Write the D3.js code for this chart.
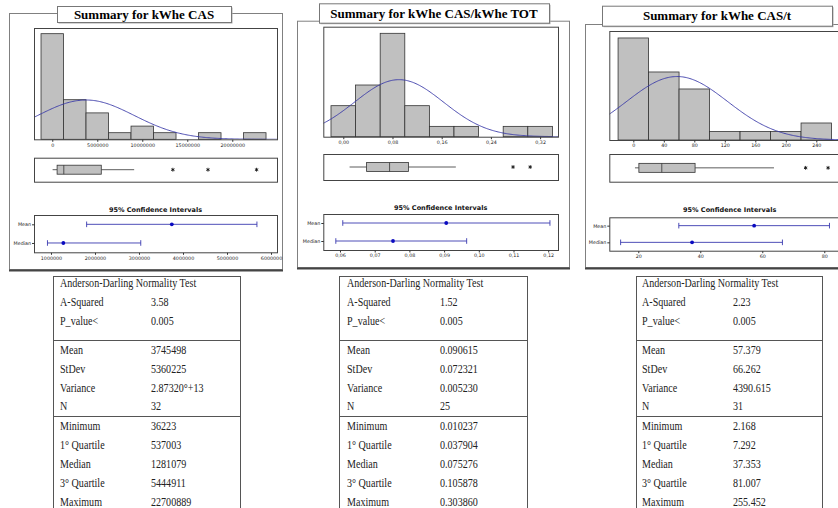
<!DOCTYPE html>
<html>
<head>
<meta charset="utf-8">
<script src="https://cdn.jsdelivr.net/npm/d3@7"></script>
<style>
  body { margin: 0; background: #fff; }
  svg { display: block; }
  .tick text { font-family: "DejaVu Sans", sans-serif; font-size: 4.8px; fill: #222; }
  .tick line { stroke: #333; }
  .ci-title { font-family: "DejaVu Sans", sans-serif; font-size: 6.5px; font-weight: bold; fill: #111; }
  .title { font-family: "Liberation Serif", serif; font-size: 13px; font-weight: bold; fill: #000; }
  .stat { font-family: "Liberation Serif", serif; font-size: 12px; fill: #222; }
</style>
</head>
<body>
<svg id="chart" width="838" height="508"></svg>
<script>
const panelTitles = ['Summary for kWhe CAS', 'Summary for kWhe CAS/kWhe TOT', 'Summary for kWhe CAS/t'];

// histogram bins (bin centres) and counts
const binCentres = [
  [0, 2500000, 5000000, 7500000, 10000000, 12500000, 15000000, 17500000, 20000000, 22500000],
  [0, 0.04, 0.08, 0.12, 0.16, 0.20, 0.24, 0.28, 0.32],
  [0, 40, 80, 120, 160, 200, 240]
];
const binCounts = [
  [16, 6, 4, 1, 2, 1, 0, 1, 0, 1],
  [3, 5, 10, 3, 1, 1, 0, 1, 1],
  [12, 8, 6, 1, 1, 1, 2]
];
const binWidths = [2500000, 0.04, 40];
const histTicks = [
  [0, 5000000, 10000000, 15000000, 20000000],
  [0, 0.08, 0.16, 0.24, 0.32],
  [0, 40, 80, 120, 160, 200, 240]
];

// descriptive stats
const means = [3745498, 0.090615, 57.379];
const stdevs = [5360225, 0.072321, 66.262];
const sampleSizes = [32, 25, 31];

// box plot
const boxMin = [36223, 0.010237, 2.168];
const boxQ1 = [537003, 0.037904, 7.292];
const boxMedian = [1281079, 0.075276, 37.353];
const boxQ3 = [5444911, 0.105878, 81.007];
const whiskerHigh = [9100000, 0.183, 184.5];
const outliers = [[13400000, 17300000, 22700889], [0.276, 0.30386], [226, 255.452]];

// 95% confidence intervals
const ciRows = ['Mean', 'Median'];
const meanCI = [[1810000, 5680000], [0.0608, 0.1205], [33.07, 81.68]];
const medianCI = [[920000, 3040000], [0.0588, 0.0965], [14.3, 66.5]];
const ciTicks = [
  [1000000, 2000000, 3000000, 4000000, 5000000, 6000000],
  [0.06, 0.07, 0.08, 0.09, 0.10, 0.11, 0.12],
  [20, 40, 60, 80]
];

// table
const statHeader = 'Anderson-Darling Normality Test';
const statLabels = ['A-Squared', 'P_value<', 'Mean', 'StDev', 'Variance', 'N',
  'Minimum', '1° Quartile', 'Median', '3° Quartile', 'Maximum'];
const statValues = [
  ['3.58', '0.005', '3745498', '5360225', '2.87320°+13', '32', '36223', '537003', '1281079', '5444911', '22700889'],
  ['1.52', '0.005', '0.090615', '0.072321', '0.005230', '25', '0.010237', '0.037904', '0.075276', '0.105878', '0.303860'],
  ['2.23', '0.005', '57.379', '66.262', '4390.615', '31', '2.168', '7.292', '37.353', '81.007', '255.452']
];

// layout of each panel
const layout = [
  {frame: [9, 13, 282, 269], title: [57, 6, 231, 22], hist: [34, 28, 277, 139.3], histX: [-2030000, 24970000], histYMax: 16.86,
   box: [157.7, 181.7], ciTitleY: 210, ci: [215, 252.3], ciX: [614000, 6136000], table: [53, 240], labelX: 60, valueX: 151},
  {frame: [297, 20.7, 569, 267], title: [319, 3.3, 549, 22.7], hist: [323.3, 26.7, 558, 136.7], histX: [-0.0325, 0.3491], histYMax: 10.64,
   box: [154, 180], ciTitleY: 207.7, ci: [214, 250], ciX: [0.05519, 0.12282], table: [339, 527], labelX: 347, valueX: 440},
  {frame: [585, 24, 870, 267], title: [602, 5.7, 832, 25.7], hist: [609.3, 31, 850, 140], histX: [-31.5, 284.2], histYMax: 12.82,
   box: [154, 181.7], ciTitleY: 210, ci: [217.3, 250.7], ciX: [10.65, 88.3], table: [636, 822], labelX: 642, valueX: 733}
];
const histFormats = [d3.format('d'), d => d3.format('.2f')(d).replace('.', ','), d3.format('d')];
const ciFormats = [d3.format('d'), d => d3.format('.2f')(d).replace('.', ','), d3.format('d')];
const tableRowY = [283, 302, 321, 350, 369, 388, 406, 426, 445, 464, 483, 502];
const tableLines = [340, 416];

const svg = d3.select('#chart');
const defs = svg.append('defs');

panelTitles.forEach((title, i) => {
  const L = layout[i];
  const g = svg.append('g');

  // outer frame
  g.append('rect')
    .attr('x', L.frame[0] + 0.5).attr('y', L.frame[1] + 0.5)
    .attr('width', L.frame[2] - L.frame[0]).attr('height', L.frame[3] - L.frame[1])
    .attr('fill', 'none').attr('stroke', '#808080');
  g.append('line')
    .attr('x1', L.frame[0]).attr('x2', L.frame[2] + 1)
    .attr('y1', L.frame[3] + 1.5).attr('y2', L.frame[3] + 1.5)
    .attr('stroke', '#444').attr('stroke-width', 2);

  // title box
  g.append('rect')
    .attr('x', L.title[0] + 1.5).attr('y', L.title[1] + 1.5)
    .attr('width', L.title[2] - L.title[0]).attr('height', L.title[3] - L.title[1])
    .attr('fill', '#aaa');
  g.append('rect')
    .attr('x', L.title[0] + 0.5).attr('y', L.title[1] + 0.5)
    .attr('width', L.title[2] - L.title[0]).attr('height', L.title[3] - L.title[1])
    .attr('fill', '#fff').attr('stroke', '#777');
  g.append('text')
    .attr('class', 'title')
    .attr('x', (L.title[0] + L.title[2]) / 2)
    .attr('y', (L.title[1] + L.title[3]) / 2 + 4.5)
    .attr('text-anchor', 'middle')
    .text(title);

  // histogram
  const x = d3.scaleLinear().domain(L.histX).range([L.hist[0], L.hist[2]]);
  const y = d3.scaleLinear().domain([0, L.histYMax]).range([L.hist[3], L.hist[1]]);
  const bins = binCentres[i].map((c, k) => ({c, n: binCounts[i][k]})).filter(d => d.n > 0);
  const bw = binWidths[i];

  g.selectAll('rect.bar')
    .data(bins)
    .join('rect')
    .attr('class', 'bar')
    .attr('x', d => x(d.c - bw / 2))
    .attr('y', d => y(d.n))
    .attr('width', d => x(d.c + bw / 2) - x(d.c - bw / 2))
    .attr('height', d => y(0) - y(d.n))
    .attr('fill', '#c0c0c0')
    .attr('stroke', '#333')
    .attr('stroke-width', 0.8);

  // fitted normal curve
  const clipId = 'clip' + i;
  defs.append('clipPath').attr('id', clipId)
    .append('rect')
    .attr('x', L.hist[0]).attr('y', L.hist[1])
    .attr('width', L.hist[2] - L.hist[0]).attr('height', L.hist[3] - L.hist[1]);
  const m = means[i], s = stdevs[i], scale = sampleSizes[i] * bw / (s * Math.sqrt(2 * Math.PI));
  const xs = d3.range(0, 201).map(k => L.histX[0] + (L.histX[1] - L.histX[0]) * k / 200);
  g.append('path')
    .datum(xs)
    .attr('clip-path', `url(#${clipId})`)
    .attr('fill', 'none')
    .attr('stroke', '#3a3aa8')
    .attr('stroke-width', 0.9)
    .attr('d', d3.line().x(v => x(v)).y(v => y(scale * Math.exp(-0.5 * ((v - m) / s) ** 2))));

  g.append('rect')
    .attr('x', L.hist[0] + 0.5).attr('y', L.hist[1] + 0.5)
    .attr('width', L.hist[2] - L.hist[0]).attr('height', L.hist[3] - L.hist[1])
    .attr('fill', 'none').attr('stroke', '#444');

  const hAxis = g.append('g')
    .attr('transform', `translate(0,${L.hist[3] + 0.5})`)
    .call(d3.axisBottom(x).tickValues(histTicks[i]).tickFormat(histFormats[i]).tickSize(2).tickPadding(1.5));
  hAxis.select('.domain').remove();

  // box plot
  const by = (L.box[0] + L.box[1]) / 2;
  g.append('rect')
    .attr('x', L.hist[0] + 0.5).attr('y', L.box[0] + 0.5)
    .attr('width', L.hist[2] - L.hist[0]).attr('height', L.box[1] - L.box[0])
    .attr('fill', 'none').attr('stroke', '#444');
  g.append('line')
    .attr('x1', x(boxMin[i])).attr('x2', x(boxQ1[i]))
    .attr('y1', by).attr('y2', by).attr('stroke', '#333').attr('stroke-width', 0.8);
  g.append('line')
    .attr('x1', x(boxQ3[i])).attr('x2', x(whiskerHigh[i]))
    .attr('y1', by).attr('y2', by).attr('stroke', '#333').attr('stroke-width', 0.8);
  g.append('rect')
    .attr('x', x(boxQ1[i])).attr('y', by - 4.5)
    .attr('width', x(boxQ3[i]) - x(boxQ1[i])).attr('height', 9)
    .attr('fill', '#c0c0c0').attr('stroke', '#333').attr('stroke-width', 0.8);
  g.append('line')
    .attr('x1', x(boxMedian[i])).attr('x2', x(boxMedian[i]))
    .attr('y1', by - 4.5).attr('y2', by + 4.5).attr('stroke', '#333').attr('stroke-width', 0.8);
  g.selectAll('path.outlier')
    .data(outliers[i])
    .join('path')
    .attr('class', 'outlier')
    .attr('transform', d => `translate(${x(d)},${by})`)
    .attr('d', d3.symbol(d3.symbolAsterisk, 10))
    .attr('fill', 'none').attr('stroke', '#111').attr('stroke-width', 0.9);

  // confidence intervals
  const cx = d3.scaleLinear().domain(L.ciX).range([L.hist[0], L.hist[2]]);
  const cy = d3.scalePoint().domain(ciRows).range([L.ci[0], L.ci[1]]).padding(0.5);
  g.append('text')
    .attr('class', 'ci-title')
    .attr('x', (L.hist[0] + L.hist[2]) / 2)
    .attr('y', L.ciTitleY + 2.3)
    .attr('text-anchor', 'middle')
    .text('95% Confidence Intervals');
  g.append('rect')
    .attr('x', L.hist[0] + 0.5).attr('y', L.ci[0] + 0.5)
    .attr('width', L.hist[2] - L.hist[0]).attr('height', L.ci[1] - L.ci[0])
    .attr('fill', 'none').attr('stroke', '#444');

  const ciData = [
    {row: 'Mean', lo: meanCI[i][0], hi: meanCI[i][1], v: means[i]},
    {row: 'Median', lo: medianCI[i][0], hi: medianCI[i][1], v: boxMedian[i]}
  ];
  const ci = g.selectAll('g.ci').data(ciData).join('g').attr('class', 'ci')
    .attr('transform', d => `translate(0,${cy(d.row)})`);
  ci.append('line')
    .attr('x1', d => cx(d.lo)).attr('x2', d => cx(d.hi))
    .attr('stroke', '#3a3ab0').attr('stroke-width', 0.9);
  ci.append('line')
    .attr('x1', d => cx(d.lo)).attr('x2', d => cx(d.lo)).attr('y1', -2.8).attr('y2', 2.8)
    .attr('stroke', '#3a3ab0').attr('stroke-width', 0.9);
  ci.append('line')
    .attr('x1', d => cx(d.hi)).attr('x2', d => cx(d.hi)).attr('y1', -2.8).attr('y2', 2.8)
    .attr('stroke', '#3a3ab0').attr('stroke-width', 0.9);
  ci.append('circle')
    .attr('cx', d => cx(d.v)).attr('r', 1.9)
    .attr('fill', '#0a0ac0');

  const ciAxisY = g.append('g')
    .attr('transform', `translate(${L.hist[0] + 0.5},0)`)
    .call(d3.axisLeft(cy).tickSize(2.5).tickPadding(1));
  ciAxisY.select('.domain').remove();
  const ciAxisX = g.append('g')
    .attr('transform', `translate(0,${L.ci[1] + 0.5})`)
    .call(d3.axisBottom(cx).tickValues(ciTicks[i]).tickFormat(ciFormats[i]).tickSize(2).tickPadding(1.5));
  ciAxisX.select('.domain').remove();

  // statistics table
  const T = L.table;
  const tg = g.append('g');
  tg.append('line').attr('x1', T[0] + 0.5).attr('x2', T[0] + 0.5).attr('y1', 276).attr('y2', 508).attr('stroke', '#555');
  tg.append('line').attr('x1', T[1] + 0.5).attr('x2', T[1] + 0.5).attr('y1', 276).attr('y2', 508).attr('stroke', '#555');
  tg.selectAll('line.h')
    .data([276].concat(tableLines))
    .join('line')
    .attr('class', 'h')
    .attr('x1', T[0]).attr('x2', T[1] + 1)
    .attr('y1', d => d + 0.5).attr('y2', d => d + 0.5)
    .attr('stroke', '#555');

  const rows = [{label: statHeader, value: ''}].concat(statLabels.map((l, k) => ({label: l, value: statValues[i][k]})));
  const row = tg.selectAll('g.row').data(rows).join('g').attr('class', 'row');
  row.append('text')
    .attr('class', 'stat')
    .attr('transform', (d, k) => `translate(${L.labelX},${tableRowY[k] + 4}) scale(0.84,1)`)
    .text(d => d.label);
  row.append('text')
    .attr('class', 'stat')
    .attr('transform', (d, k) => `translate(${L.valueX},${tableRowY[k] + 4}) scale(0.84,1)`)
    .text(d => d.value);
});
</script>
</body>
</html>
